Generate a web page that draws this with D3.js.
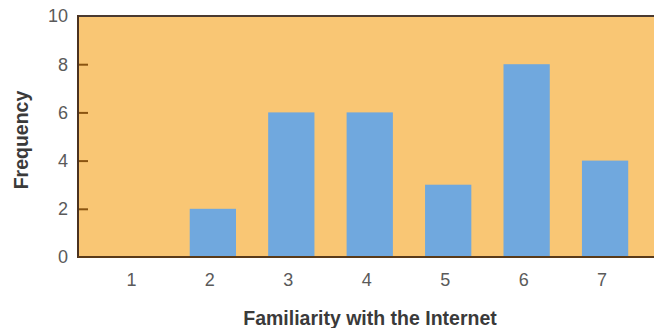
<!DOCTYPE html>
<html><head><meta charset="utf-8">
<script src="https://cdn.jsdelivr.net/npm/d3@7"></script>
<style>body{margin:0;background:#fff}svg{display:block}</style>
</head><body>
<script>
const categories = ["1","2","3","4","5","6","7"];
const frequency = [0, 2, 6, 6, 3, 8, 4];
const yTicks = [0, 2, 4, 6, 8, 10];
const xTitle = "Familiarity with the Internet";
const yTitle = "Frequency";

const W = 654, H = 328;
const m = {left: 78, right: 0, top: 16, bottom: 70};
const FONT = "Liberation Sans, Arial, sans-serif";
const svg = d3.select("body").append("svg").attr("width", W).attr("height", H);

const x = d3.scaleBand().domain(categories).range([95.2, 644.3]).paddingInner(0.41).paddingOuter(0.205);
const y = d3.scaleLinear().domain([0, 10]).range([H - m.bottom - 1, m.top]);

// plot background
svg.append("rect").attr("x", m.left).attr("y", m.top)
  .attr("width", W - m.left).attr("height", y(0) - m.top)
  .attr("fill", "#f9c674");

// bars
svg.append("g").selectAll("rect").data(frequency).join("rect")
  .attr("x", (d, i) => x(categories[i]))
  .attr("y", d => y(d))
  .attr("width", x.bandwidth())
  .attr("height", d => y(0) - y(d))
  .attr("fill", "#70a8de");

// top border
svg.append("line").attr("x1", m.left).attr("x2", W).attr("y1", m.top).attr("y2", m.top)
  .attr("stroke", "#4a3a30").attr("stroke-width", 2);

// y axis
const yAxis = svg.append("g").attr("transform", `translate(${m.left},0)`)
  .call(d3.axisRight(y).tickValues(yTicks).tickSize(10).tickFormat(""));
yAxis.select(".domain").remove();
yAxis.selectAll(".tick line").attr("stroke", "#8a5410").attr("stroke-width", 2)
  .filter(d => d === 0 || d === 10).remove();
svg.append("line").attr("x1", m.left).attr("x2", m.left).attr("y1", m.top - 1).attr("y2", y(0) + 1)
  .attr("stroke", "#4a3220").attr("stroke-width", 2);
svg.append("g").selectAll("text").data(yTicks).join("text")
  .attr("x", m.left - 10).attr("y", d => y(d)).attr("dy", "0.36em")
  .attr("text-anchor", "end").attr("font-family", FONT)
  .attr("font-size", 18).attr("fill", "#5a5a5a").text(d => d);

// x axis
svg.append("line").attr("x1", m.left).attr("x2", W).attr("y1", y(0)).attr("y2", y(0))
  .attr("stroke", "#5a3a18").attr("stroke-width", 2);
const xAxis = svg.append("g").attr("transform", `translate(0,${y(0)})`)
  .call(d3.axisBottom(x).tickSize(0).tickPadding(16));
xAxis.select(".domain").remove();
xAxis.attr("font-size", null).attr("font-family", null);
xAxis.selectAll("text").attr("font-family", FONT)
  .attr("font-size", 18).attr("fill", "#5a5a5a").attr("dx", "-3");

// titles
svg.append("text").attr("x", 370).attr("y", 325).attr("text-anchor", "middle")
  .attr("font-family", FONT).attr("font-size", 19.5).attr("font-weight", "bold")
  .attr("fill", "#3a3a3a").text(xTitle);
svg.append("text").attr("transform", "translate(28,140) rotate(-90)").attr("text-anchor", "middle")
  .attr("font-family", FONT).attr("font-size", 19.5).attr("font-weight", "bold")
  .attr("fill", "#3a3a3a").text(yTitle);
</script>
</body></html>
